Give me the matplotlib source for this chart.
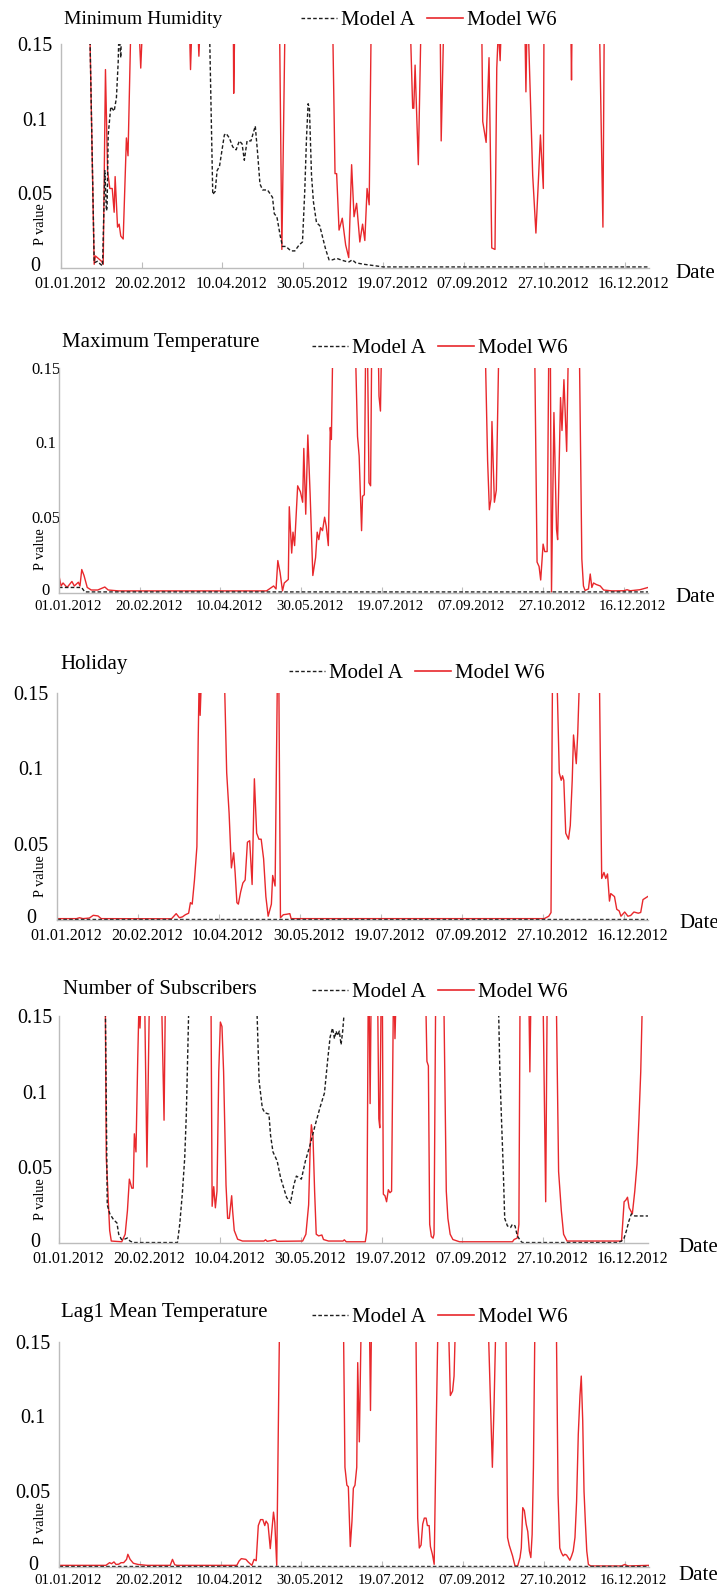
import matplotlib
matplotlib.use('Agg')
import matplotlib.pyplot as plt
import matplotlib.transforms as mtransforms
from matplotlib.lines import Line2D

plt.rcParams['font.family'] = ['Liberation Serif', 'DejaVu Serif']

# x = day of 2012 (0 = 01.01.2012), y = p value
# 0.16 means "above the 0.15 axis limit" -> clipped away like in the original
hum_a = [(0, .16), (17.9, .16), (20.6, .003), (22.6, .004), (24.5, .002), (25.8, .001),
         (27.2, .065), (28.2, .038), (28.6, .040), (29.3, .089), (30.9, .108), (33.0, .105),
         (34.4, .114), (35.5, .138), (36.0, .16), (37.1, .141), (37.6, .16), (92.2, .16),
         (94.2, .049), (95.7, .051), (96.9, .065), (98.4, .068), (101.4, .089), (102.5, .090),
         (104.5, .087), (106.6, .081), (108.7, .079), (110.7, .085), (112.4, .083), (113.8, .072),
         (115.5, .085), (117.9, .085), (120.6, .095), (122.1, .076), (123.5, .056), (125.2, .052),
         (128.2, .052), (131.3, .047), (132.4, .036), (134.0, .034), (136.1, .021), (137.5, .014),
         (139.6, .014), (142.7, .011), (145.2, .011), (147.8, .015), (149.9, .017), (151.3, .051),
         (152.4, .087), (153.4, .110), (154.2, .107), (155.5, .062), (156.7, .044), (158.6, .030),
         (160.6, .028), (162.9, .018), (164.3, .012), (166.4, .005), (168.5, .005), (171.1, .006),
         (173.6, .005), (176.7, .004), (178.8, .0036), (180.8, .005), (183, .003), (188, .002),
         (195, .001), (200, .0002), (365, .0002)]
hum_w6 = [(0, .16), (17.9, .16), (20.6, .002), (21.4, .0076), (25.2, .004), (26.2, .002),
          (27.6, .133), (28.9, .065), (30.3, .053), (31.8, .053), (33.0, .037), (33.6, .061),
          (35.1, .027), (36.1, .029), (37.1, .021), (38.6, .019), (40.6, .087), (41.6, .075),
          (43.3, .16), (48.5, .16), (49.5, .134), (50.5, .16), (79.8, .16), (80.4, .133),
          (81.2, .16), (85.0, .16), (85.6, .142), (86.2, .16), (107.0, .16), (107.2, .117),
          (107.8, .16), (135.7, .16), (137.1, .012), (139.0, .16), (168.7, .16), (170.1, .063),
          (171.1, .063), (172.6, .025), (174.6, .033), (176.7, .015), (178.6, .0065), (180.4, .069),
          (181.9, .034), (183.5, .043), (185.5, .017), (187.2, .029), (188.6, .018), (190.0, .053),
          (191.3, .042), (192.5, .16), (216.9, .16), (218.3, .107), (219.0, .107), (219.8, .136),
          (221.8, .069), (223.4, .16), (235.4, .16), (236.0, .085), (237.5, .16), (261.2, .16),
          (261.8, .098), (263.9, .084), (265.7, .141), (267.4, .013), (269.4, .012), (270.5, .134),
          (271.5, .16), (272.6, .139), (273.2, .16), (288.0, .16), (288.6, .118), (289.2, .16),
          (290.1, .16), (292.8, .062), (294.8, .023), (296.5, .062), (297.6, .089), (299.4, .053),
          (299.8, .16), (316.5, .16), (316.9, .126), (317.2, .16), (334.3, .16), (336.4, .027),
          (337.2, .16), (365, .16)]

tmax_a = [(0, .003), (14, .003), (16, 0), (365, 0)]
tmax_w6 = [(0, .0107), (1.3, .004), (2.5, .006), (5, .003), (8, .007), (9.5, .004), (12, .0065),
           (13, .004), (14.1, .015), (15.5, .011), (17.5, .003), (20, .0013), (24, .0013),
           (28.4, .0033), (30.5, .0013), (37, .0007), (128.6, .0007), (133, .004), (134.5, .002),
           (135.6, .021), (137, .013), (138.5, .0007), (139.6, .006), (142.1, .0084), (142.7, .057),
           (144.2, .026), (145, .040), (146, .031), (147.9, .071), (149.6, .067), (151, .060),
           (151.7, .096), (152.9, .052), (154.2, .105), (155.6, .066), (157.3, .011), (159, .023),
           (160, .040), (161, .035), (162.1, .043), (163.3, .041), (164.6, .050), (165.6, .044),
           (166.9, .031), (168.1, .110), (168.8, .102), (169.6, .16), (183.75, .16), (185, .104),
           (186, .091), (187.5, .041), (188.1, .064), (189.2, .065), (190, .16), (191.2, .16),
           (192.1, .073), (193.1, .071), (193.75, .16), (197.9, .16), (198.3, .131), (199.2, .121),
           (199.8, .16), (264.2, .16), (265.6, .088), (266.7, .055), (267.7, .062), (268.3, .114),
           (269.8, .060), (271, .068), (272.5, .16), (294.8, .16), (296.25, .020), (297.5, .017),
           (298.5, .008), (300, .032), (301, .027), (302.5, .027), (303.5, .16), (304.5, .16),
           (305.2, 0), (306.7, .120), (308.3, .042), (309, .035), (310, .088), (310.8, .130),
           (311.7, .108), (312.9, .142), (314.6, .094), (315.6, .16), (322.5, .16), (324, .022),
           (325, .004), (326, .001), (328.1, .002), (329.2, .012), (330.2, .003), (331.25, .006),
           (332.9, .005), (335.4, .004), (337.5, .0013), (342.7, .0007), (350, .0008),
           (352, .0015), (354, .0008), (360, .0015), (365, .003)]

hol_a = [(0, 0), (365, 0)]
hol_w6 = [(0, .0004), (12, .0004), (13.9, .001), (16, .0004), (20, .0008), (22.4, .0026),
          (25.3, .0022), (27.3, .0004), (70.7, .0003), (73.6, .0037), (75.6, .001), (77.5, .0016),
          (79.3, .003), (81.3, .004), (82.4, .011), (83.5, .010), (84.9, .026), (86.4, .048),
          (87.2, .119), (87.8, .16), (88.4, .135), (89.2, .16), (103.4, .16), (104.8, .097),
          (106.3, .070), (107.7, .034), (109.1, .044), (110, .031), (111.1, .011), (112, .010),
          (113.4, .018), (114.8, .024), (116.2, .026), (117.6, .051), (119, .052), (120.5, .023),
          (121.9, .093), (123.3, .057), (124.7, .053), (126.1, .053), (127.6, .040), (129, .015),
          (130.4, .002), (132.4, .010), (133.2, .029), (134.7, .022), (136.1, .16), (137, .16),
          (138, .001), (139.8, .003), (141.8, .0033), (143.8, .0037), (144.6, .0004),
          (300.9, .0004), (303.7, .002), (305.1, .0044), (306, .16), (308.8, .16), (310.2, .097),
          (311.4, .092), (312.2, .095), (313, .092), (314.2, .057), (315.9, .053), (317, .062),
          (318.2, .092), (319, .122), (320.7, .103), (321.6, .123), (322.7, .16), (335, .16),
          (336.4, .027), (337.8, .031), (338.9, .027), (340, .030), (341.2, .012), (342, .017),
          (344.3, .015), (345.7, .0066), (347.2, .0055), (348.3, .002), (350.6, .0048),
          (352.6, .002), (354.3, .0025), (356.3, .0048), (359, .004), (360.5, .0045),
          (361.9, .013), (364.8, .015)]

subs_a = [(0, .16), (28.7, .16), (29.9, .025), (31.5, .019), (33.9, .015), (35.9, .013),
          (37, .0055), (38.7, .002), (40, .002), (42.4, .003), (44, .001), (46, 0), (73.4, 0),
          (74.8, .012), (76.4, .032), (77.9, .056), (78.9, .085), (79.9, .131), (80.5, .16),
          (122.5, .16), (124, .107), (126, .089), (127.5, .086), (130.1, .085), (131.1, .071),
          (132.6, .060), (135.2, .054), (137.3, .043), (139.3, .036), (141, .030), (143.4, .026),
          (145.5, .038), (147.1, .044), (150.2, .042), (152.7, .054), (155.7, .065), (158.8, .078),
          (161.9, .090), (164.5, .099), (166.6, .122), (168, .136), (169.5, .142), (170.7, .135),
          (171.7, .140), (172.7, .137), (173.7, .140), (174.8, .131), (175.8, .140), (177.3, .16),
          (272.3, .16), (273.2, .113), (274.2, .082), (275.2, .052), (276.2, .016), (277.9, .011),
          (279.9, .010), (280.9, .012), (282.6, .011), (284, .0044), (286.1, .001), (287.1, 0),
          (346.5, 0), (348.6, .001), (350.2, .003), (351.6, .0077), (353.1, .014), (354.7, .019),
          (356.8, .0176), (365, .0176)]
subs_w6 = [(0, .16), (28.7, .16), (29.3, .056), (30.1, .038), (31.4, .008), (32.4, .001),
           (38.9, .0005), (41, .0055), (42.4, .021), (43.6, .042), (45.1, .036), (46, .036),
           (46.7, .072), (47.7, .060), (48.8, .122), (49.6, .16), (50.2, .142), (50.8, .16),
           (53.1, .16), (54.5, .050), (56, .16), (63.6, .16), (65.1, .081), (65.9, .16),
           (94.2, .16), (94.9, .024), (95.9, .037), (96.9, .023), (97.9, .034), (99, .113),
           (100, .146), (101, .143), (102, .113), (103.5, .038), (104.5, .016), (105.5, .016),
           (107, .031), (107.6, .021), (108.6, .008), (110.7, .0022), (113.7, .001), (127, .001),
           (128, .0018), (129, .0008), (134.2, .0018), (135, .0008), (151, .001), (153, .0055),
           (154.7, .025), (155.7, .065), (156.4, .078), (157.4, .070), (158.4, .034),
           (159.4, .0055), (160.9, .0044), (162.9, .005), (163.9, .002), (167, .001), (176, .001),
           (176.8, .0018), (178, .0005), (189.8, .0005), (190.8, .0077), (191.6, .16),
           (192.2, .16), (192.8, .092), (193.4, .16), (197.5, .16), (198.2, .082), (198.8, .076),
           (199.6, .16), (200.4, .16), (201, .032), (202, .031), (203, .027), (204.1, .035),
           (205.1, .033), (206.1, .034), (207.2, .16), (207.8, .16), (208.2, .135), (208.8, .16),
           (227.3, .16), (228, .12), (228.9, .117), (229.7, .012), (230.7, .004), (231.8, .0029),
           (232.4, .0055), (233.4, .16), (238.5, .16), (240, .034), (241, .016), (242.4, .0055),
           (244.1, .002), (248.2, .0005), (281, .0005), (282, .002), (284, .003), (285, .012),
           (285.7, .16), (291.2, .16), (291.8, .113), (292.4, .16), (300, .16), (301.6, .027),
           (302.5, .16), (308.2, .16), (309.6, .047), (311.3, .021), (312.7, .0055),
           (314.8, .001), (348.6, .001), (350.2, .027), (351.2, .028), (352.3, .030),
           (353.3, .023), (354.3, .021), (355.3, .019), (356.8, .034), (358.2, .052),
           (359.4, .082), (360.5, .113), (361.5, .16), (365, .16)]

lag_a = [(0, 0), (365, 0)]
lag_w6 = [(0, .0004), (29, .0004), (31.3, .0022), (32.5, .0015), (34, .0027), (35.3, .001),
          (37, .0012), (38.4, .0022), (40, .0022), (41.8, .0044), (42.6, .0078), (44, .0044),
          (46, .0018), (48.9, .001), (54.5, .0004), (68.8, .0004), (70.2, .0044), (71.6, .0008),
          (73, .0004), (110, .0004), (111.4, .0033), (112.8, .0049), (115.6, .0044), (117, .0027),
          (119.3, .0004), (120.7, .0044), (122, .0035), (123.3, .027), (124.7, .031),
          (126.1, .031), (127.3, .027), (128.1, .030), (129.3, .028), (130.7, .0116),
          (132.7, .036), (133.5, .029), (134.7, .0004), (136.4, .16), (176, .16), (176.9, .066),
          (178.1, .054), (179, .053), (180.2, .013), (181.25, .030), (182.1, .052), (183.1, .054),
          (184.2, .066), (184.8, .136), (185.8, .083), (186.9, .16), (192.1, .16), (192.7, .104),
          (193.3, .16), (220.8, .16), (221.9, .032), (222.9, .012), (224, .014), (225, .028),
          (226, .032), (227.1, .032), (227.9, .027), (229, .027), (229.8, .013), (231, .0078),
          (232.1, .0011), (233.3, .088), (234.4, .16), (241, .16), (242.1, .114), (243.5, .117),
          (244.4, .127), (245.2, .16), (265.6, .16), (267.1, .103), (268.1, .066), (269.2, .110),
          (270.2, .16), (276.5, .16), (277.5, .019), (278.5, .014), (280.6, .0067), (282.1, 0),
          (283.75, 0), (285.2, .0056), (286, .012), (286.9, .039), (287.9, .037), (289, .028),
          (290, .023), (291, .010), (291.9, .0056), (292.7, .021), (293.5, .066), (294.4, .16),
          (307.7, .16), (308.75, .048), (309.8, .012), (310.8, .0089), (311.9, .0067),
          (312.9, .0078), (314, .0073), (315, .0056), (316, .0038), (317.1, .0067), (318.1, .010),
          (319.2, .019), (320.2, .043), (321.25, .088), (322.3, .114), (323.1, .127), (324, .097),
          (324.8, .050), (325.6, .030), (326.5, .010), (327.5, .001), (329, 0), (348, 0),
          (350, .001), (352, 0), (365, .0004)]

titles = ['Minimum Humidity', 'Maximum Temperature', 'Holiday', 'Number of Subscribers',
          'Lag1 Mean Temperature']
series_a = [hum_a, tmax_a, hol_a, subs_a, lag_a]
series_w6 = [hum_w6, tmax_w6, hol_w6, subs_w6, lag_w6]
tick_days = [0, 50, 100, 150, 200, 250, 300, 350]
tick_labels = ['01.01.2012', '20.02.2012', '10.04.2012', '30.05.2012', '19.07.2012',
               '07.09.2012', '27.10.2012', '16.12.2012']
y_ticks = [0, 0.05, 0.1, 0.15]
y_labels = ['0', '0.05', '0.1', '0.15']

# layout in pixels of the 717x1589 picture
W, H = 717, 1589
axes_px = [(61, 44.3, 649, 268), (59, 367.7, 648, 592.7), (57, 692.7, 648, 920),
           (59, 1016, 648, 1243.3), (59, 1341.7, 649, 1566.7)]
title_px = [(64, 19), (62, 342), (60, 665), (63, 990), (61, 1313)]
title_fs = [14, 15, 15, 15, 15]
legend_px = [(301, 20), (312, 348), (289, 673), (312, 992), (312, 1317)]
date_px = [(675, 274), (675, 597), (679, 924), (678, 1248), (678, 1575)]
xtick_fs = [11.5, 10.7, 11.5, 11.5, 10.7]
ytick_fs = [14.5, 12, 14.5, 14.5, 14.5]
ytick_pad = [18.7, 9.5, 18.6, 17.3, 18.9]

RED = '#e8282c'
GREY = '#bcbcbc'
DASH = (0, (2.6, 1.6))

fig = plt.figure(figsize=(W / 100, H / 100), dpi=100)
shift = mtransforms.ScaledTranslation(9 / 100, 0, fig.dpi_scale_trans)
lift = mtransforms.ScaledTranslation(0, 3 / 100, fig.dpi_scale_trans)

for i in range(5):
    l, t, r, b = axes_px[i]
    ax = fig.add_axes([l / W, 1 - b / H, (r - l) / W, (b - t) / H])
    w6 = series_w6[i]
    a = series_a[i]
    ax.plot([p[0] for p in w6], [p[1] for p in w6], color=RED, lw=1.0)
    ax.plot([p[0] for p in a], [p[1] for p in a], color='#1e1e1e', lw=1.0, ls=DASH)
    ax.set_xlim(0, 365)
    ax.set_ylim(-0.0005, 0.15)

    for s in ['top', 'right']:
        ax.spines[s].set_visible(False)
    for s in ['left', 'bottom']:
        ax.spines[s].set_color(GREY)
        ax.spines[s].set_linewidth(1.0)

    ax.set_xticks(tick_days)
    ax.set_xticklabels(tick_labels, fontsize=xtick_fs[i])
    ax.tick_params(axis='x', direction='in', length=4, color=GREY, pad=5.5)
    for lab in ax.get_xticklabels():
        lab.set_transform(lab.get_transform() + shift)
    ax.set_yticks(y_ticks)
    ax.set_yticklabels(y_labels, fontsize=ytick_fs[i])
    ax.tick_params(axis='y', length=0, pad=ytick_pad[i])
    for lab in ax.get_yticklabels():
        lab.set_ha('center')
    # the "0" sits a little higher so it clears the first date label
    zero = ax.get_yticklabels()[0]
    zero.set_transform(zero.get_transform() + lift)

    tx, ty = title_px[i]
    fig.text(tx / W, 1 - ty / H, titles[i], fontsize=title_fs[i], va='center', ha='left')
    dx, dy = date_px[i]
    fig.text(dx / W, 1 - dy / H, 'Date', fontsize=15, va='center', ha='left')
    fig.text(40 / W, 1 - (b - 44) / H, 'P value', fontsize=10.3, rotation=90,
             va='center', ha='center')

    handles = [Line2D([], [], color='#1e1e1e', lw=1.0, ls=DASH),
               Line2D([], [], color=RED, lw=1.2)]
    lx, ly = legend_px[i]
    ax.legend(handles, ['Model A', 'Model W6'], ncol=2, loc='center left',
              bbox_to_anchor=(lx / W, 1 - ly / H), bbox_transform=fig.transFigure,
              frameon=False, fontsize=15, handlelength=1.75, handletextpad=0.15,
              columnspacing=0.6, borderpad=0, borderaxespad=0)

fig.savefig('out.png', dpi=100)
